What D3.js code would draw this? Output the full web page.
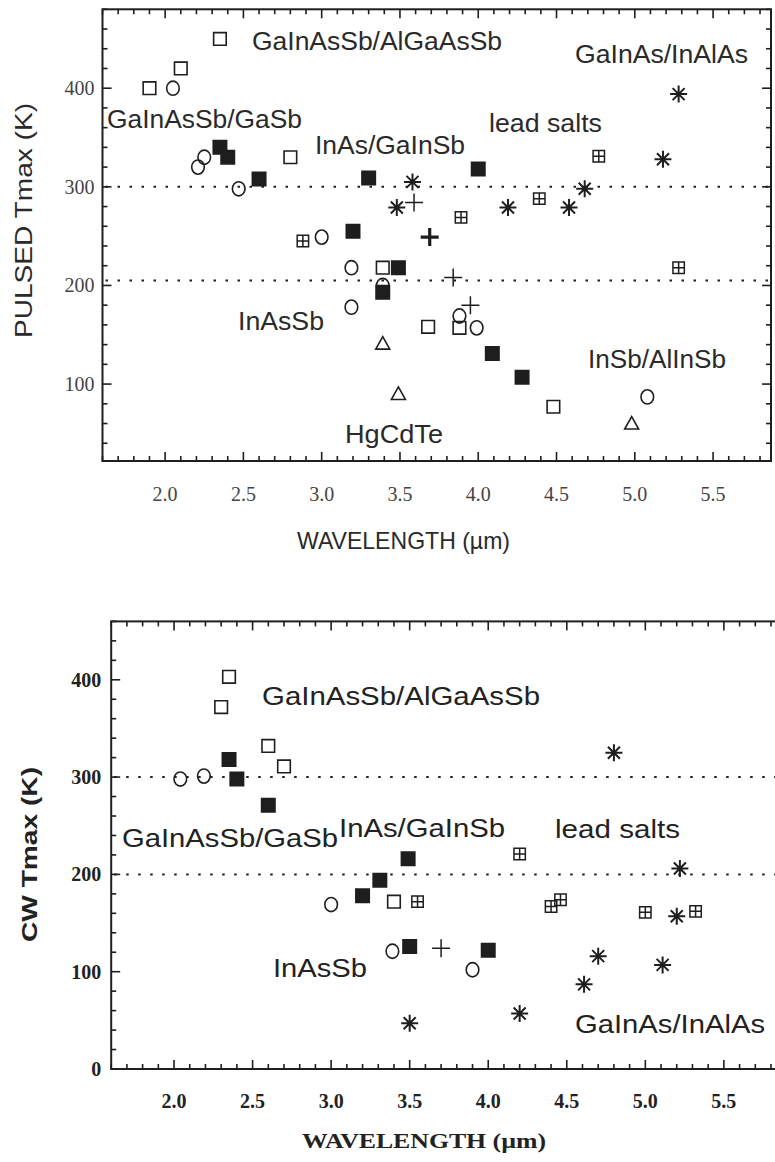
<!DOCTYPE html>
<html><head><meta charset="utf-8">
<script src="https://cdn.jsdelivr.net/npm/d3@7"></script>
<style>body{margin:0;background:#fff}</style>
</head><body>
<svg id="c" width="775" height="1162"></svg>
<script>
// ---------- data ----------
const xTickValues = [2.0, 2.5, 3.0, 3.5, 4.0, 4.5, 5.0, 5.5];
const xTickLabels = ["2.0", "2.5", "3.0", "3.5", "4.0", "4.5", "5.0", "5.5"];
const yTicksPulsed = [100, 200, 300, 400];
const yTicksCW = [0, 100, 200, 300, 400];
const pulsedRefLines = [300, 205];
const cwRefLines = [300, 200];

// PULSED Tmax (K) vs wavelength (µm)
const pulsedOpenCircle = [[2.05,400],[2.21,320],[2.25,330],[2.47,298],[3.0,249],[3.19,218],[3.39,200],[3.19,178],[3.88,169],[3.99,157],[5.08,87]];
const pulsedOpenSquare = [[1.9,400],[2.1,420],[2.35,450],[2.8,330],[3.39,218],[3.68,158],[3.88,157],[4.48,77]];
const pulsedFilledSquare = [[2.35,340],[2.40,330],[2.6,308],[3.3,309],[3.2,255],[3.49,218],[3.39,193],[4.0,318],[4.09,131],[4.28,107]];
const pulsedAsterisk = [[3.58,305],[3.48,279],[4.19,279],[4.58,279],[4.68,298],[5.18,328],[5.28,394]];
const pulsedPlus = [[3.59,284],[3.84,208],[3.95,180]];
const pulsedThickPlus = [[3.69,249]];
const pulsedGrid = [[2.88,245],[3.89,269],[4.39,288],[4.77,331],[5.28,218]];
const pulsedTriangle = [[3.39,141],[3.49,90],[4.98,60]];

// CW Tmax (K) vs wavelength (µm)
const cwOpenCircle = [[2.04,298],[2.19,301],[3.0,169],[3.39,121],[3.90,102]];
const cwOpenSquare = [[2.30,372],[2.35,403],[2.60,332],[2.70,311],[3.40,172]];
const cwFilledSquare = [[2.35,318],[2.40,298],[2.60,271],[3.20,178],[3.31,194],[3.49,216],[3.50,126],[4.0,122]];
const cwAsterisk = [[3.50,47],[4.20,57],[4.61,87],[4.70,116],[4.80,325],[5.11,107],[5.20,157],[5.22,206]];
const cwPlus = [[3.70,124]];
const cwGrid = [[3.55,172],[4.20,221],[4.40,167],[4.46,174],[5.0,161],[5.32,162]];

const pulsedLabels = ["GaInAsSb/AlGaAsSb","GaInAsSb/GaSb","InAs/GaInSb","GaInAs/InAlAs","lead salts","InAsSb","HgCdTe","InSb/AlInSb"];
const cwLabels = ["GaInAsSb/AlGaAsSb","GaInAsSb/GaSb","InAs/GaInSb","lead salts","InAsSb","GaInAs/InAlAs"];

// ---------- drawing ----------
const svg = d3.select("#c");
const INK = "#1e1e1e";

function markerPath(type) {
  switch (type) {
    case "osq": return "M-6.3,-6.3H6.3V6.3H-6.3Z";
    case "fsq": return "M-6.7,-6.7H6.7V6.7H-6.7Z";
    case "grid": return "M-5.7,-5.7H5.7V5.7H-5.7Z M0,-5.7V5.7 M-5.7,0H5.7";
    case "tri": return "M0,-7L7,5.5H-7Z";
    case "plus": return "M-9,0H9M0,-9V9";
    case "ast": {
      const r = 8.5, d = r * Math.SQRT1_2;
      return `M-${r},0H${r}M0,-${r}V${r}M-${d},-${d}L${d},${d}M-${d},${d}L${d},-${d}`;
    }
  }
}

function drawMarkers(g, x, y, data, type, opts = {}) {
  const sel = g.append("g");
  if (type === "circ") {
    sel.selectAll("ellipse").data(data).join("ellipse")
      .attr("cx", d => x(d[0])).attr("cy", d => y(d[1]))
      .attr("rx", 6.3).attr("ry", 7.1)
      .attr("fill", "none").attr("stroke", INK).attr("stroke-width", 1.6);
    return;
  }
  sel.selectAll("path").data(data).join("path")
    .attr("transform", d => `translate(${x(d[0])},${y(d[1])})`)
    .attr("d", markerPath(type))
    .attr("fill", type === "fsq" ? INK : "none")
    .attr("stroke", INK)
    .attr("stroke-width", opts.sw || 1.6);
}

function drawFrame(g, x, y, cfg) {
  const [x0, x1] = x.range();
  const [y0, y1] = y.range(); // y0 bottom, y1 top
  g.append("rect").attr("x", x0).attr("y", y1).attr("width", x1 - x0).attr("height", y0 - y1)
    .attr("fill", "none").attr("stroke", INK).attr("stroke-width", 2);

  // x ticks every 0.1, majors at 0.5
  const xt = d3.range(16, 59).map(v => v / 10);
  xt.forEach(v => {
    const major = Math.abs(v * 2 - Math.round(v * 2)) < 1e-6;
    const len = major ? 9 : 5;
    const px = x(v);
    g.append("line").attr("x1", px).attr("x2", px).attr("y1", y0).attr("y2", y0 - len)
      .attr("stroke", INK).attr("stroke-width", 1.6);
    g.append("line").attr("x1", px).attr("x2", px).attr("y1", y1).attr("y2", y1 + len)
      .attr("stroke", INK).attr("stroke-width", 1.6);
  });
  // y ticks every 20, majors at 100
  const [d0, d1] = y.domain();
  const yt = d3.range(Math.ceil(d0 / 20) * 20, d1 + 0.1, 20);
  yt.forEach(v => {
    const major = v % 100 === 0;
    const len = major ? 9 : 5;
    const py = y(v);
    g.append("line").attr("x1", x0).attr("x2", x0 + len).attr("y1", py).attr("y2", py)
      .attr("stroke", INK).attr("stroke-width", 1.6);
    if (cfg.rightTicks) g.append("line").attr("x1", x1).attr("x2", x1 - len).attr("y1", py).attr("y2", py)
      .attr("stroke", INK).attr("stroke-width", 1.6);
  });

  // tick labels
  g.selectAll(".xl").data(xTickValues).join("text")
    .attr("x", d => x(d)).attr("y", y0 + cfg.xLabelOff)
    .attr("text-anchor", "middle")
    .attr("font-family", "Liberation Serif").attr("font-size", cfg.tickSize)
    .attr("font-weight", cfg.tickWeight).attr("fill", cfg.tickColor)
    .text((d, i) => xTickLabels[i]);
  g.selectAll(".yl").data(cfg.yTicks).join("text")
    .attr("x", x0 + cfg.yLabelX).attr("y", d => y(d) + 7)
    .attr("text-anchor", "end")
    .attr("font-family", "Liberation Serif").attr("font-size", cfg.tickSize)
    .attr("font-weight", cfg.tickWeight).attr("fill", cfg.tickColor)
    .text(d => d);

  // reference dotted lines
  cfg.refLines.forEach(v => {
    g.append("line").attr("x1", x0 + 3).attr("x2", x1).attr("y1", y(v)).attr("y2", y(v))
      .attr("stroke", INK).attr("stroke-width", 2).attr("stroke-dasharray", "2.5,9.5");
  });
}

function addText(g, txt, x, yb, opts) {
  const t = g.append("text").attr("x", x).attr("y", yb)
    .attr("font-family", opts.family || "Liberation Sans")
    .attr("font-size", opts.size).attr("font-weight", opts.weight || "normal")
    .attr("fill", opts.fill || "#222")
    .attr("text-anchor", opts.anchor || "start")
    .text(txt);
  if (opts.len) t.attr("textLength", opts.len).attr("lengthAdjust", "spacingAndGlyphs");
  if (opts.rotate) t.attr("transform", `rotate(-90,${x},${yb})`);
  return t;
}

// ---------- top panel: PULSED ----------
const xTop = d3.scaleLinear().domain([1.6, 5.87]).range([102.5, 771]);
const yTop = d3.scaleLinear().domain([22, 480]).range([461, 9.3]);
const gTop = svg.append("g");
drawFrame(gTop, xTop, yTop, {yTicks: yTicksPulsed, refLines: pulsedRefLines, rightTicks: true,
  xLabelOff: 40, yLabelX: -8, tickSize: 20, tickWeight: "normal", tickColor: "#444"});
drawMarkers(gTop, xTop, yTop, pulsedOpenCircle, "circ");
drawMarkers(gTop, xTop, yTop, pulsedOpenSquare, "osq");
drawMarkers(gTop, xTop, yTop, pulsedFilledSquare, "fsq");
drawMarkers(gTop, xTop, yTop, pulsedAsterisk, "ast", {sw: 2});
drawMarkers(gTop, xTop, yTop, pulsedPlus, "plus", {sw: 1.5});
drawMarkers(gTop, xTop, yTop, pulsedThickPlus, "plus", {sw: 3.2});
drawMarkers(gTop, xTop, yTop, pulsedGrid, "grid", {sw: 1.5});
drawMarkers(gTop, xTop, yTop, pulsedTriangle, "tri");

const topLabelPos = [[252,50,250],[107,128,195],[315,154,150],[575,63,173],[489,132,113],[238,330,86],[345,443,98],[588,368,138]];
pulsedLabels.forEach((t, i) => addText(gTop, t, topLabelPos[i][0], topLabelPos[i][1], {size: 25, len: topLabelPos[i][2], fill: "#2a2a2a"}));
addText(gTop, "WAVELENGTH (µm)", 297, 549, {size: 24, len: 213, fill: "#2a2a2a"});
addText(gTop, "PULSED Tmax (K)", 32, 338, {size: 24, len: 235, fill: "#2a2a2a", rotate: true});

// ---------- bottom panel: CW ----------
const xBot = d3.scaleLinear().domain([1.6, 5.87]).range([111.2, 782]);
const yBot = d3.scaleLinear().domain([0, 460]).range([1069, 621.4]);
const gBot = svg.append("g");
drawFrame(gBot, xBot, yBot, {yTicks: yTicksCW, refLines: cwRefLines, rightTicks: false,
  xLabelOff: 39, yLabelX: -10, tickSize: 20, tickWeight: "bold", tickColor: "#222"});
drawMarkers(gBot, xBot, yBot, cwOpenCircle, "circ");
drawMarkers(gBot, xBot, yBot, cwOpenSquare, "osq");
drawMarkers(gBot, xBot, yBot, cwFilledSquare, "fsq");
drawMarkers(gBot, xBot, yBot, cwAsterisk, "ast", {sw: 2});
drawMarkers(gBot, xBot, yBot, cwPlus, "plus", {sw: 1.5});
drawMarkers(gBot, xBot, yBot, cwGrid, "grid", {sw: 1.5});

const botLabelPos = [[262,705,278],[122,847,216],[339,837,166],[555,838,125],[273,977,94],[575,1033,190]];
cwLabels.forEach((t, i) => addText(gBot, t, botLabelPos[i][0], botLabelPos[i][1], {size: 26, len: botLabelPos[i][2], fill: "#222"}));
addText(gBot, "WAVELENGTH (µm)", 302, 1148, {size: 22, len: 244, family: "Liberation Serif", weight: "bold", fill: "#222"});
addText(gBot, "CW Tmax (K)", 37, 942, {size: 22, len: 175, weight: "bold", fill: "#222", rotate: true});
</script>
</body></html>
